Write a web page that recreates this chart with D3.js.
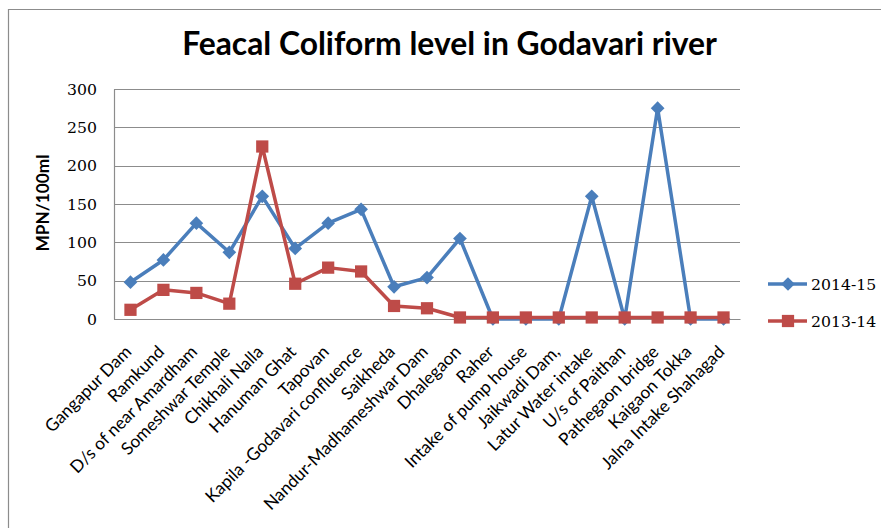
<!DOCTYPE html>
<html>
<head>
<meta charset="utf-8">
<script src="https://cdn.jsdelivr.net/npm/d3@7"></script>
<style>
  html, body { margin: 0; padding: 0; background: #fff; }
  svg { display: block; }
</style>
</head>
<body>
<script>
// Sampling stations along the river, upstream to downstream
const categories = [
  "Gangapur Dam", "Ramkund", "D/s of near Amardham", "Someshwar Temple",
  "Chikhali Nalla", "Hanuman Ghat", "Tapovan", "Kapila -Godavari confluence",
  "Saikheda", "Nandur-Madhameshwar Dam", "Dhalegaon", "Raher",
  "Intake of pump house", "Jaikwadi Dam,", "Latur Water intake",
  "U/s of Paithan", "Pathegaon bridge", "Kaigaon Tokka", "Jalna Intake Shahagad"
];

// Feacal coliform, MPN/100ml
const values2014 = [48, 77, 125, 87, 160, 92, 125, 143, 42, 54, 105, 0, 0, 0, 160, 0, 275, 0, 0];
const values2013 = [12, 38, 34, 20, 225, 46, 67, 62, 17, 14, 2, 2, 2, 2, 2, 2, 2, 2, 2];

const seriesNames = ["2014-15", "2013-14"];
const yTicks = [0, 50, 100, 150, 200, 250, 300];
const titleText = "Feacal Coliform level in Godavari river";
const yAxisTitle = "MPN/100ml";

const W = 881, H = 528;
const margin = { left: 114, right: 141, top: 89, bottom: 209 };
const blue = "#4A7EBB", red = "#BE4B48", grid = "#8C8C8C";
const sansFont = "Lato, 'Open Sans', sans-serif";
const serifFont = "'DejaVu Serif', serif";

const svg = d3.select("body").append("svg")
  .attr("width", W).attr("height", H);

// chart frame (top and left edges visible)
svg.append("path")
  .attr("d", `M8.5,${H} L8.5,9.5 L${W},9.5`)
  .attr("fill", "none").attr("stroke", "#8C8C8C").attr("stroke-width", 1.2);

const x = d3.scaleBand().domain(categories)
  .range([margin.left, W - margin.right]).padding(0);
const y = d3.scaleLinear().domain([0, 300])
  .range([H - margin.bottom, margin.top]);
const cx = d => x(d) + x.bandwidth() / 2;

// fit a string to a target width by scaling its font size
function fitSize(text, font, weight, targetWidth) {
  const t = svg.append("text").attr("font-family", font)
    .attr("font-weight", weight).attr("font-size", 100).text(text);
  const w = t.node().getComputedTextLength();
  t.remove();
  return 100 * targetWidth / w;
}

// title
svg.append("text")
  .attr("x", 449.5).attr("y", 55)
  .attr("text-anchor", "middle")
  .attr("font-family", sansFont).attr("font-weight", 700)
  .attr("font-size", fitSize(titleText, sansFont, 700, 535))
  .attr("fill", "#000")
  .text(titleText);

// horizontal gridlines
const yAxis = d3.axisLeft(y).tickValues(yTicks).tickSize(0).tickPadding(17);
const yg = svg.append("g").attr("transform", `translate(${margin.left},0)`).call(yAxis);
yg.select(".domain").attr("stroke", grid).attr("stroke-width", 1.2);
yg.selectAll(".tick text")
  .attr("font-family", serifFont).attr("font-size", 15.7).attr("fill", "#000");

svg.append("g").selectAll("line").data(yTicks).join("line")
  .attr("x1", margin.left).attr("x2", W - margin.right)
  .attr("y1", d => Math.round(y(d)) + 0.5).attr("y2", d => Math.round(y(d)) + 0.5)
  .attr("stroke", grid).attr("stroke-width", 1.2);

// category axis
const xAxis = d3.axisBottom(x).tickSize(0).tickFormat("");
const xg = svg.append("g").attr("transform", `translate(0,${y(0)})`).call(xAxis);
xg.select(".domain").attr("stroke", grid).attr("stroke-width", 1.2);

const labelSize = fitSize("Jalna Intake Shahagad", sansFont, 400, 166);
svg.append("g").selectAll("text").data(categories).join("text")
  .attr("transform", d => `translate(${cx(d) + 2},${y(0) + 34}) rotate(-45)`)
  .attr("text-anchor", "end")
  .attr("font-family", sansFont).attr("font-size", labelSize)
  .attr("fill", "#000")
  .text(d => d);

// y-axis title
svg.append("text")
  .attr("transform", `translate(49,203) rotate(-90)`)
  .attr("text-anchor", "middle")
  .attr("font-family", sansFont).attr("font-weight", 700)
  .attr("font-size", fitSize(yAxisTitle, sansFont, 700, 97))
  .attr("fill", "#000")
  .text(yAxisTitle);

// marker shapes
const diamond = d3.symbol().type(d3.symbolDiamond2).size(120);
const square = d3.symbol().type(d3.symbolSquare).size(150);

const series = [
  { name: seriesNames[0], values: values2014, color: blue, shape: diamond },
  { name: seriesNames[1], values: values2013, color: red, shape: square }
];

const line = d3.line().x(d => cx(d.cat)).y(d => y(d.v));

series.forEach(s => {
  const pts = categories.map((c, i) => ({ cat: c, v: s.values[i] }));
  const g = svg.append("g");
  g.append("path").datum(pts)
    .attr("d", line)
    .attr("fill", "none").attr("stroke", s.color)
    .attr("stroke-width", 3.5).attr("stroke-linejoin", "round");
  g.selectAll("path.m").data(pts).join("path").attr("class", "m")
    .attr("transform", d => `translate(${cx(d.cat)},${y(d.v)})`)
    .attr("d", s.shape()).attr("fill", s.color);
});

// legend
const legY = [284, 321];
const lg = svg.append("g");
series.forEach((s, i) => {
  lg.append("line")
    .attr("x1", 768).attr("x2", 807).attr("y1", legY[i]).attr("y2", legY[i])
    .attr("stroke", s.color).attr("stroke-width", 3.5);
  lg.append("path")
    .attr("transform", `translate(788,${legY[i]})`)
    .attr("d", s.shape()).attr("fill", s.color);
  lg.append("text")
    .attr("x", 811).attr("y", legY[i] + 6)
    .attr("font-family", serifFont).attr("font-size", 15.7)
    .attr("fill", "#000")
    .text(s.name);
});
</script>
</body>
</html>
